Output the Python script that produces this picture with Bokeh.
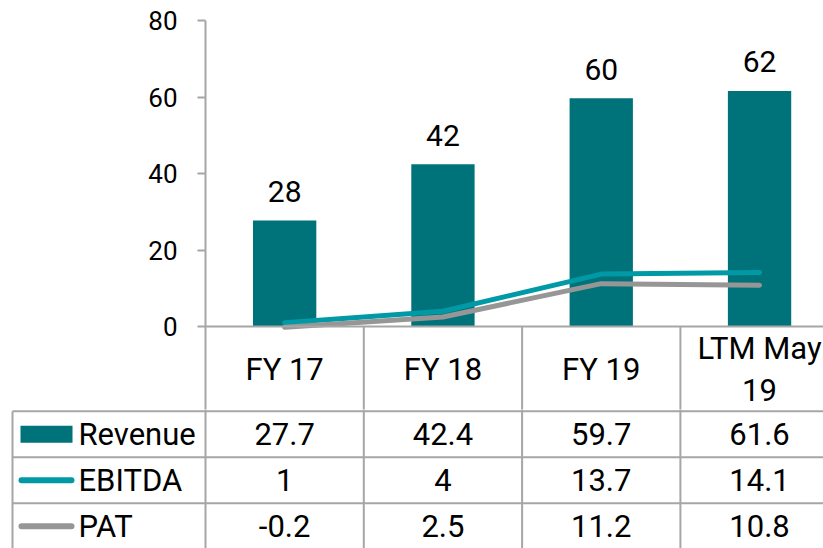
from bokeh.plotting import figure
from bokeh.layouts import column
from bokeh.models import Range1d, FixedTicker, Span, ColumnDataSource
from bokeh.core.properties import value
from bokeh.embed import file_html
from bokeh.resources import INLINE

# ---- data ----
categories = ["FY 17", "FY 18", "FY 19", "LTM May\n19"]
revenue = [27.7, 42.4, 59.7, 61.6]
ebitda = [1, 4, 13.7, 14.1]
pat = [-0.2, 2.5, 11.2, 10.8]
series_names = ["Revenue", "EBITDA", "PAT"]
y_ticks = [0, 20, 40, 60, 80]

# ---- style / layout ----
BAR = "#00737A"
EBITDA_C = "#009AA6"
PAT_C = "#969696"
GRID = "#A6A6A6"
FONT = value("Roboto")

W, H = 823, 548
X0 = 205          # px of the value axis
CW = 158.3        # px per category
TOP = 20          # px of y=80
ZERO = 326        # px of y=0
PXU = (ZERO - TOP) / 80.0
SPLIT = 409       # page y where the chart figure ends and the table figure starts


def px(x):      # page x -> category units
    return (x - X0) / CW


def yv(y):      # page y -> value units
    return (ZERO - y) / PXU


ncat = len(categories)
xc = [i + 0.5 for i in range(ncat)]

# ================= chart (with category header) =================
p = figure(width=W, height=SPLIT, output_backend="svg", toolbar_location=None,
           x_range=Range1d(0, px(W)), y_range=Range1d(yv(SPLIT), 80),
           x_axis_location=None, frame_align=False,
           min_border_left=X0, min_border_right=0, min_border_top=TOP, min_border_bottom=0)
p.grid.visible = False
p.outline_line_color = None
ya = p.yaxis[0]
ya.ticker = FixedTicker(ticks=y_ticks)
ya.major_tick_out = 8
ya.major_tick_in = 0
ya.minor_tick_out = 0
ya.minor_tick_in = 0
ya.axis_line_color = GRID
ya.axis_line_width = 2
ya.major_tick_line_color = GRID
ya.major_tick_line_width = 2
ya.major_label_text_font = "Roboto"
ya.major_label_text_font_size = "26px"
ya.major_label_text_color = "black"
ya.major_label_standoff = 20

src = ColumnDataSource(dict(x=xc, rev=revenue, ebitda=ebitda, pat=pat,
                            lbl=[f"{round(v)}" for v in revenue]))
p.vbar(x="x", top="rev", bottom=0, width=0.4, source=src, fill_color=BAR, line_color=None)
p.add_layout(Span(location=0, dimension="width", line_color=GRID, line_width=2))
p.line("x", "ebitda", source=src, line_color=EBITDA_C, line_width=5, line_cap="round", line_join="round")
p.line("x", "pat", source=src, line_color=PAT_C, line_width=5, line_cap="round", line_join="round")
p.text("x", "rev", text="lbl", source=src, text_font=FONT, text_font_size="30px",
       text_align="center", text_baseline="alphabetic", y_offset=-29, text_color="black")
# header separators
kx = list(range(1, ncat + 1))
p.segment(kx, [yv(ZERO)] * len(kx), kx, [yv(SPLIT + 2)] * len(kx), line_color=GRID, line_width=2)
# category header
p.text(xc, [yv(369)] * ncat, text=categories, text_font=FONT, text_font_size="31px",
       text_align="center", text_baseline="middle", text_color="black", text_line_height=1.13)

# ================= data table =================
t = figure(width=W, height=H - SPLIT, output_backend="svg", toolbar_location=None,
           x_range=Range1d(px(0), px(W)), y_range=Range1d(yv(H), yv(SPLIT)),
           x_axis_location=None, y_axis_location=None, frame_align=False,
           min_border_left=0, min_border_right=0, min_border_top=0, min_border_bottom=0)
t.grid.visible = False
t.outline_line_color = None

row_lines = [410.7, 456.7, 502.7, 548.7]
row_c = [(row_lines[i] + row_lines[i + 1]) / 2 for i in range(3)]

xs0, xs1, ys0, ys1 = [], [], [], []
for k in range(0, ncat + 1):
    xs0.append(k); xs1.append(k); ys0.append(yv(SPLIT - 2)); ys1.append(yv(H + 2))
xs0.append(px(12)); xs1.append(px(12)); ys0.append(yv(row_lines[0])); ys1.append(yv(H + 2))
for r in row_lines:
    xs0.append(px(12)); xs1.append(ncat); ys0.append(yv(r)); ys1.append(yv(r))
t.segment(xs0, ys0, xs1, ys1, line_color=GRID, line_width=2)

rows = [revenue, ebitda, pat]
for ri, vals in enumerate(rows):
    t.text(xc, [yv(row_c[ri])] * ncat, text=[f"{v:g}" for v in vals], text_font=FONT,
           text_font_size="31px", text_align="center", text_baseline="middle", text_color="black")

t.text([px(78)] * 3, [yv(c) for c in row_c], text=series_names, text_font=FONT,
       text_font_size="31px", text_align="left", text_baseline="middle", text_color="black")

# legend keys
t.quad(left=px(20), right=px(72), top=yv(row_c[0] - 8.5), bottom=yv(row_c[0] + 8.5),
       fill_color=BAR, line_color=None)
t.segment([px(21)], [yv(row_c[1])], [px(71)], [yv(row_c[1])], line_color=EBITDA_C,
          line_width=6, line_cap="round")
t.segment([px(21)], [yv(row_c[2])], [px(71)], [yv(row_c[2])], line_color=PAT_C,
          line_width=6, line_cap="round")

layout = column(p, t, spacing=0)
open("out.html", "w").write(file_html(layout, INLINE))
